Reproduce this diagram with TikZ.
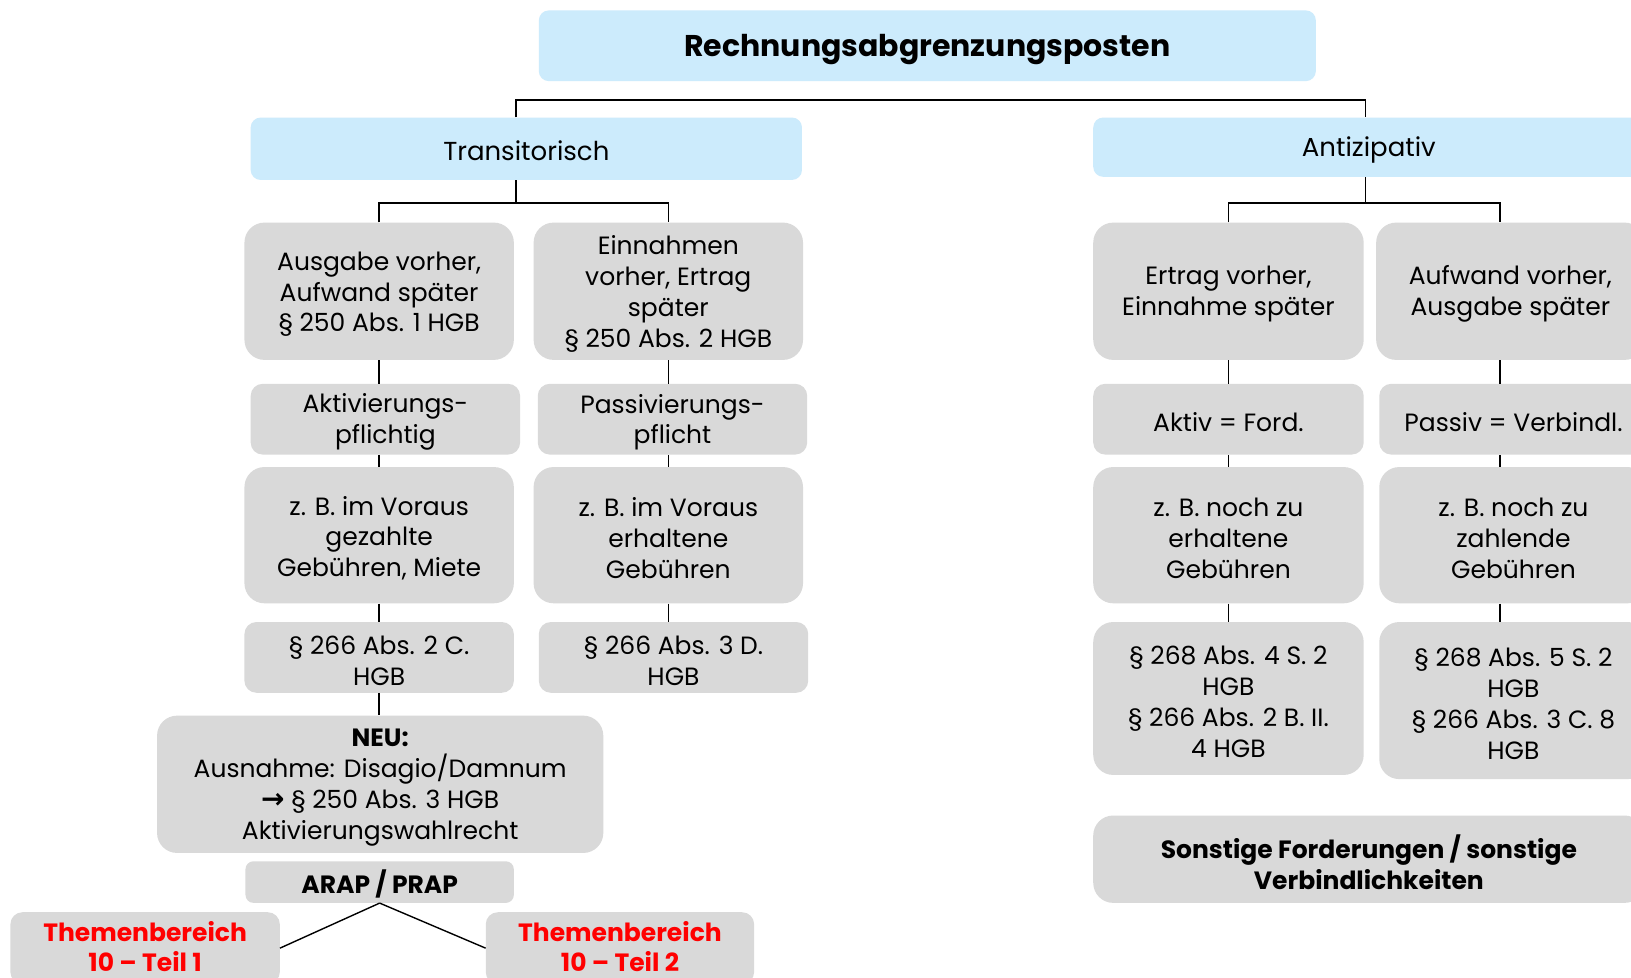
\documentclass[tikz,border=0pt]{standalone}
\usepackage{fontspec}
\setmainfont{Poppins}
\newfontfamily\arrowfont{DejaVu Sans}
\definecolor{bluefill}{RGB}{204,235,252}
\definecolor{greyfill}{RGB}{217,217,217}
\definecolor{themered}{RGB}{255,0,0}
\def\tdy{-3pt}
\tikzset{
  tdy/.code={\def\tdy{#1}},
  bluebox/.style={fill=bluefill, draw=none, rounded corners=10pt, inner sep=0pt, align=center,
    font=\fontsize{26}{32}\selectfont},
  greybox/.style={fill=greyfill, draw=none, rounded corners=20pt, inner sep=0pt, align=center,
    font=\fontsize{25}{30.9}\selectfont},
  smallbox/.style={greybox, rounded corners=12pt},
  boldtext/.style={font=\fontsize{25}{30.9}\selectfont\bfseries},
  conn/.style={draw=black, line width=1.4pt},
}
% \mkbox[style]{name}{x1}{y1}{x2}{y2}{text}
\newcommand\mkbox[7][]{%
  \node[#1, minimum width={(#5-#3)*1.0402pt}, minimum height={(#6-#4)*1.0402pt}]
    (#2) at ({(#3+#5)/2},{(#4+#6)/2}) {};
  \node[#1, fill=none, draw=none, minimum width=0pt, minimum height=0pt, yshift=\tdy]
    (#2-t) at (#2.center) {#7};}
\begin{document}
\begin{tikzpicture}[x=1.0402pt, y=-1.0402pt]
\useasboundingbox (0,0) rectangle (1568,940);
\clip (0,0) rectangle (1568,940);
\fill[white] (0,0) rectangle (1568,940);

% top level
\mkbox[bluebox, font=\fontsize{30}{36}\selectfont\bfseries, tdy=-4pt]{title}{518}{10}{1265}{78}{Rechnungsabgrenzungsposten}
\mkbox[bluebox, tdy=-1.5pt]{trans}{241}{113}{771}{173}{Transitorisch}
\mkbox[bluebox, tdy=-3pt]{anti}{1051}{113}{1581}{170}{Antizipativ}

% left column
\mkbox[greybox]{a1}{235}{214}{494}{346}{Ausgabe vorher,\\Aufwand später\\§ 250 Abs. 1 HGB}
\mkbox[greybox]{a2}{513}{214}{772}{346}{Einnahmen\\vorher, Ertrag\\später\\§ 250 Abs. 2 HGB}
\mkbox[smallbox]{a3}{241}{369}{500}{437}{Aktivierungs-\\pflichtig}
\mkbox[smallbox]{a4}{517}{369}{776}{437}{Passivierungs-\\pflicht}
\mkbox[greybox]{a5}{235}{449}{494}{580}{z. B. im Voraus\\gezahlte\\Gebühren, Miete}
\mkbox[greybox]{a6}{513}{449}{772}{580}{z. B. im Voraus\\erhaltene\\Gebühren}
\mkbox[smallbox]{a7}{235}{598}{494}{666}{§ 266 Abs. 2 C.\\HGB}
\mkbox[smallbox]{a8}{518}{598}{777}{666}{§ 266 Abs. 3 D.\\HGB}
\mkbox[greybox]{neu}{151}{688}{580}{820}{\textbf{NEU:}\\Ausnahme: Disagio/Damnum\\{\arrowfont\bfseries\fontsize{28}{30.9}\selectfont →} § 250 Abs. 3 HGB\\Aktivierungswahlrecht}
\mkbox[smallbox, rounded corners=8pt, boldtext, tdy=-2pt]{arap}{236}{828}{494}{868}{ARAP / PRAP}
\mkbox[smallbox, boldtext, text=themered, tdy=1.5pt]{th1}{10}{877}{269}{946}{Themenbereich\\10 – Teil 1}
\mkbox[smallbox, boldtext, text=themered, tdy=1.5pt]{th2}{467}{877}{725}{946}{Themenbereich\\10 – Teil 2}

% right column
\mkbox[greybox]{r1}{1051}{214}{1311}{346}{Ertrag vorher,\\Einnahme später}
\mkbox[greybox]{r2}{1323}{214}{1581}{346}{Aufwand vorher,\\Ausgabe später}
\mkbox[smallbox]{r3}{1051}{369}{1311}{437}{Aktiv = Ford.}
\mkbox[smallbox]{r4}{1326}{369}{1584}{437}{Passiv = Verbindl.}
\mkbox[greybox]{r5}{1051}{449}{1311}{580}{z. B. noch zu\\erhaltene\\Gebühren}
\mkbox[greybox]{r6}{1326}{449}{1584}{580}{z. B. noch zu\\zahlende\\Gebühren}
\mkbox[greybox]{r7}{1051}{598}{1311}{745}{§ 268 Abs. 4 S. 2\\HGB\\§ 266 Abs. 2 B. II.\\4 HGB}
\mkbox[greybox]{r8}{1326}{598}{1584}{749}{§ 268 Abs. 5 S. 2\\HGB\\§ 266 Abs. 3 C. 8\\HGB}
\mkbox[greybox, boldtext]{sonst}{1051}{784}{1581}{868}{Sonstige Forderungen / sonstige\\Verbindlichkeiten}

% junction coordinates
\coordinate (jL) at (496,96);
\coordinate (jR) at (1313,96);
\coordinate (jT) at (496,195);
\coordinate (jA) at (1313,195);
\coordinate (xR) at (1442,0);

% connectors top
\draw[conn] (trans.north -| jL) -- (jL) -- (jR) -- (anti.north -| jR);
% Transitorisch branch
\draw[conn] (trans.south -| jT) -- (jT);
\draw[conn] (a1.north) -- (a1.north |- jT) -- (a2.north |- jT) -- (a2.north);
\draw[conn] (a1.south) -- (a1.south |- a3.north);
\draw[conn] (a2.south) -- (a2.south |- a4.north);
\draw[conn] (a1.south |- a3.south) -- (a5.north);
\draw[conn] (a2.south |- a4.south) -- (a6.north);
\draw[conn] (a5.south) -- (a7.north);
\draw[conn] (a6.south) -- (a6.south |- a8.north);
\draw[conn] (a7.south) -- (a7.south |- neu.north);
\draw[conn] (arap.south) -- (th1.east);
\draw[conn] (arap.south) -- (th2.west);

% Antizipativ branch
\draw[conn] (anti.south -| jA) -- (jA);
\draw[conn] (r1.north) -- (r1.north |- jA) -- (jA -| xR) -- (r2.north -| xR);
\draw[conn] (r1.south) -- (r3.north);
\draw[conn] (r2.south -| xR) -- (r4.north -| xR);
\draw[conn] (r3.south) -- (r5.north);
\draw[conn] (r4.south -| xR) -- (r6.north -| xR);
\draw[conn] (r5.south) -- (r7.north);
\draw[conn] (r6.south -| xR) -- (r8.north -| xR);
\end{tikzpicture}
\end{document}
